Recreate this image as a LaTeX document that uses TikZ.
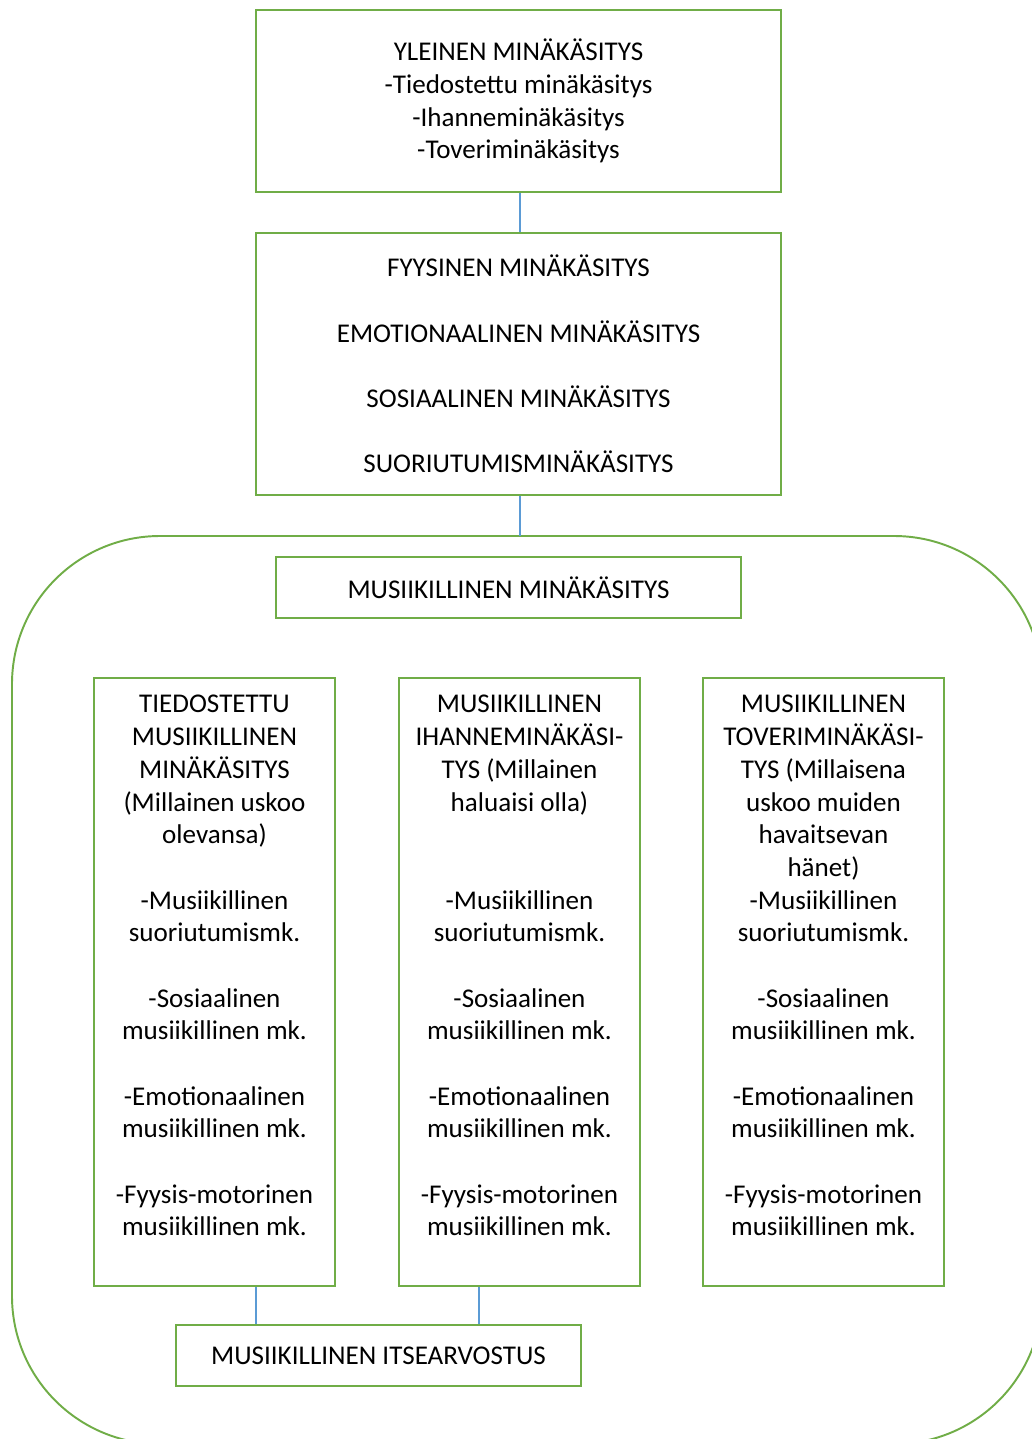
\documentclass[tikz,border=0pt]{standalone}
\usepackage{fontspec}
\setmainfont{Carlito}
\usepackage{tikz}
\usetikzlibrary{positioning}
\definecolor{boxgreen}{HTML}{70AD47}
\definecolor{linkblue}{HTML}{5B9BD5}
\newcommand{\mkfont}{\fontsize{15.4}{18.6}\selectfont}
\tikzset{every node/.style={align=center}, font=\mkfont,
  mkbox/.style={draw=boxgreen, line width=1.1pt, inner sep=0pt},
  mkcol/.style={mkbox, minimum width=4.82cm, minimum height=12.16cm},
  link/.style={draw=linkblue, line width=0.8pt}}

\begin{document}
\begin{tikzpicture}
            \useasboundingbox (0,0) rectangle (20.64,-28.78);
            \clip (0,0) rectangle (20.64,-28.78);
            % outer rounded frame
            \draw [boxgreen, line width=1.1pt, rounded corners=2.96cm] (0.24,-10.72) rectangle (20.84,-28.88);
            \coordinate (frametop) at (10.4,-10.72);

            \node [mkbox, minimum width=10.5cm, minimum height=3.64cm] (yleinen) at (10.37,-2.02) {YLEINEN MINÄKÄSITYS\\-Tiedostettu minäkäsitys\\-Ihanneminäkäsitys\\-Toveriminäkäsitys};
            \node [mkbox, minimum width=10.5cm, minimum height=5.24cm] (osat) [below of = yleinen, node distance=5.26cm] {FYYSINEN MINÄKÄSITYS\\~\\EMOTIONAALINEN MINÄKÄSITYS\\~\\SOSIAALINEN MINÄKÄSITYS\\~\\SUORIUTUMISMINÄKÄSITYS};
            \node [mkbox, minimum width=9.3cm, minimum height=1.22cm] (musmk) at (10.17,-11.75) {MUSIIKILLINEN MINÄKÄSITYS};

            \node [mkcol] (tied) at (4.29,-19.64) {TIEDOSTETTU\\MUSIIKILLINEN\\MINÄKÄSITYS\\(Millainen uskoo\\olevansa)\\~\\-Musiikillinen\\suoriutumismk.\\~\\-Sosiaalinen\\musiikillinen mk.\\~\\-Emotionaalinen\\musiikillinen mk.\\~\\-Fyysis-motorinen\\musiikillinen mk.\\~};
            \node [mkcol] (ihanne) [right of = tied, node distance=6.1cm] {MUSIIKILLINEN\\IHANNEMINÄKÄSI-\\TYS (Millainen\\haluaisi olla)\\~\\~\\-Musiikillinen\\suoriutumismk.\\~\\-Sosiaalinen\\musiikillinen mk.\\~\\-Emotionaalinen\\musiikillinen mk.\\~\\-Fyysis-motorinen\\musiikillinen mk.\\~};
            \node [mkcol] (toveri) [right of = ihanne, node distance=6.08cm] {MUSIIKILLINEN\\TOVERIMINÄKÄSI-\\TYS (Millaisena\\uskoo muiden\\havaitsevan\\hänet)\\-Musiikillinen\\suoriutumismk.\\~\\-Sosiaalinen\\musiikillinen mk.\\~\\-Emotionaalinen\\musiikillinen mk.\\~\\-Fyysis-motorinen\\musiikillinen mk.\\~};

            \node [mkbox, minimum width=8.1cm, minimum height=1.22cm] (itse) at (7.57,-27.11) {MUSIIKILLINEN ITSEARVOSTUS};

            \coordinate (xa) at (5.12,0);
            \coordinate (xb) at (9.58,0);
            \path [link] (yleinen.south -| frametop) -- (osat.north -| frametop)
                (osat.south -| frametop) -- (frametop)
                (tied.south -| xa) -- (itse.north -| xa)
                (ihanne.south -| xb) -- (itse.north -| xb);

        \end{tikzpicture}
\end{document}
